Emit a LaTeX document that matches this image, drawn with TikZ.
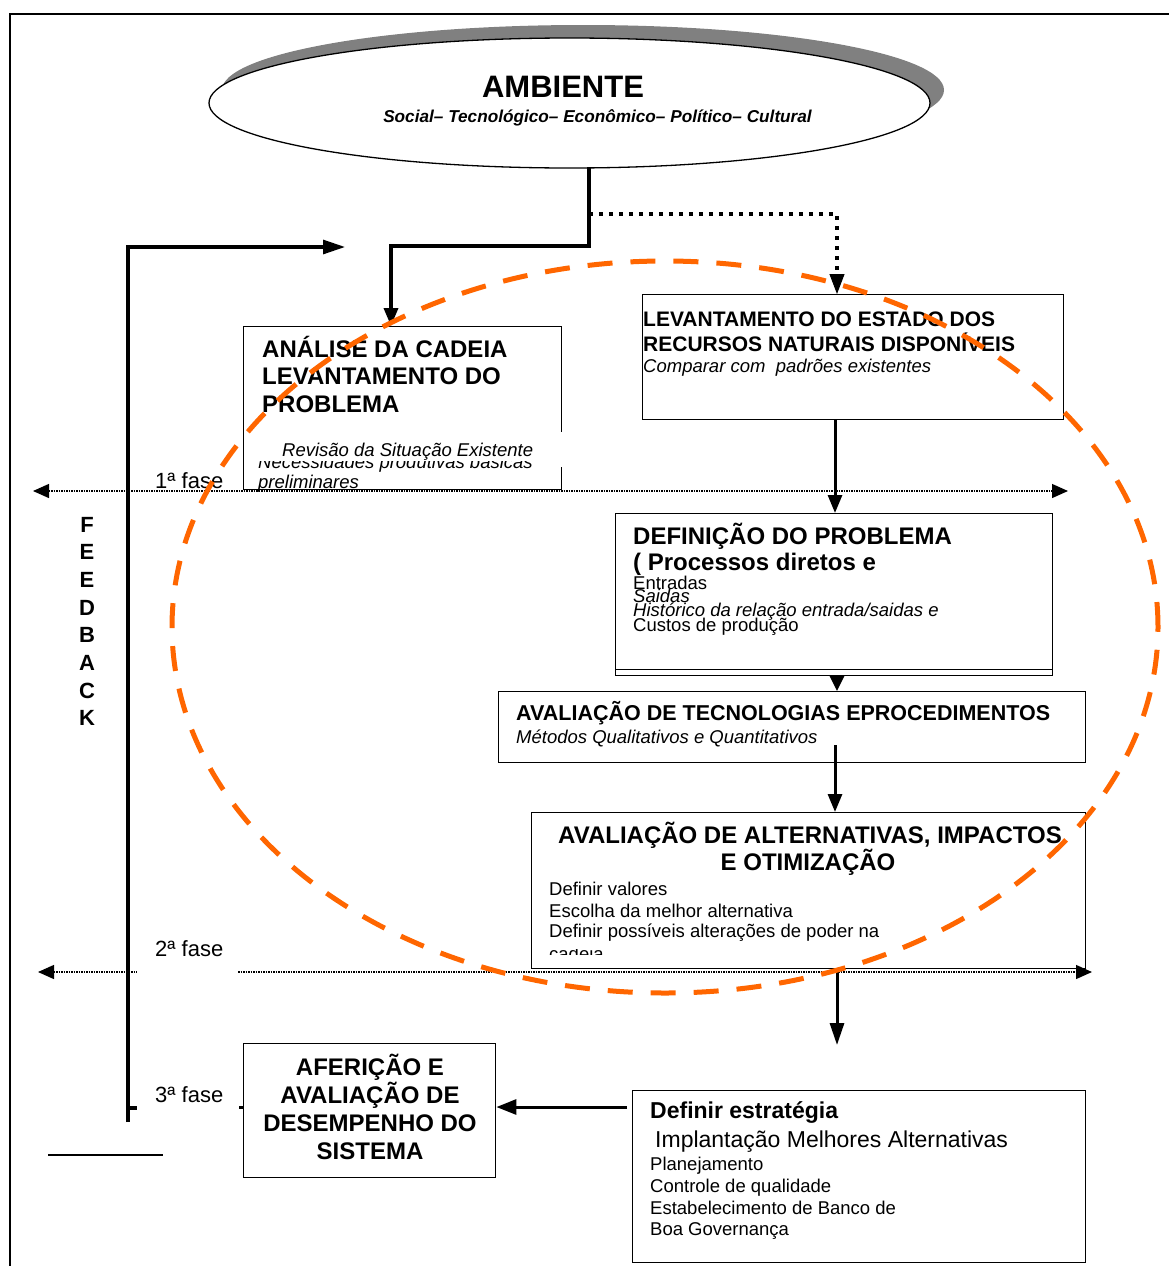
\documentclass[tikz,border=0pt]{standalone}
\usepackage{fontspec}
\setmainfont{Liberation Sans}
\usetikzlibrary{shapes.geometric,arrows.meta,calc}
\newcommand\fsz[2]{\fontsize{#1}{#2}\selectfont}
\definecolor{orng}{RGB}{255,102,0}
\definecolor{shadowgray}{RGB}{128,128,128}
\begin{document}
\begin{tikzpicture}[x=1pt,y=-1pt,
  box/.style={draw, line width=1.4pt, fill=white, inner sep=0, anchor=north west},
  txt/.style={inner sep=0, anchor=base west},
  ctxt/.style={inner sep=0, anchor=base},
  bigb/.style={font=\fsz{24}{28}\bfseries},
  midb/.style={font=\fsz{21}{25}\bfseries},
  smit/.style={font=\fsz{18.5}{22}\itshape},
  smrg/.style={font=\fsz{18.5}{22}},
  phtxt/.style={font=\fsz{22}{26}},
  thk/.style={line width=3.6pt, line cap=rect},
  arr/.style={line width=3pt, -{Triangle[length=18pt,width=14pt]}},
  dotln/.style={line width=4pt, dash pattern=on 4pt off 6pt},
  phase/.style={line width=1.3pt, dash pattern=on 1.5pt off 1pt},
  ptip/.style={{Triangle[length=16pt,width=14pt]}-{Triangle[length=16pt,width=14pt]}},
]
\useasboundingbox (0,0) rectangle (1169,1266);
% frame
\draw[line width=1.2pt] (10,1266) -- (10,14) -- (1169,14);

% AMBIENTE ellipse with shadow
\node[ellipse, fill=shadowgray, minimum width=722pt, minimum height=130pt, inner sep=0] (ambsh) at (583,90) {};
\node[ellipse, draw, line width=1.3pt, fill=white, minimum width=721pt, minimum height=130pt, inner sep=0] (amb) at (569.5,103) {};
\node[ctxt, font=\fsz{31}{36}\bfseries] (ambt) at (563,97) {AMBIENTE};
\node[ctxt, font=\fsz{17.2}{20}\bfseries\itshape] (ambs) at (597.5,122) {Social– Tecnológico– Econômico– Político– Cultural};

% boxes
\node[box, minimum width=318pt, minimum height=163pt] (anal) at (243,326) {};
\node[box, minimum width=421pt, minimum height=125pt] (lev) at (642,294) {};
\node[box, minimum width=437pt, minimum height=162pt] (def) at (615,513) {};
\draw[line width=1.4pt] ($(def.south west)+(0,-7)$) -- ($(def.south east)+(0,-7)$);
\node[box, minimum width=587pt, minimum height=71pt] (tec) at (498,691) {};
\node[box, minimum width=554pt, minimum height=156pt] (alt) at (531,812) {};
\node[box, minimum width=453pt, minimum height=172pt] (estr) at (632,1090) {};
\node[box, minimum width=252pt, minimum height=134pt] (afer) at (243,1043) {};

% connectors from AMBIENTE
\coordinate (j1) at (589,246);
\coordinate (j2) at (589,214);
\draw[thk] (amb.south -| j1) -- (j1) -| ($(anal.north west)+(148,-12)$);
\draw[arr, line width=3.6pt] ($(anal.north west)+(148,-14)$) -- ($(anal.north west)+(148,0)$);
\draw[dotln] (j2) -| ($(lev.north west)+(195,-16)$);
\draw[-{Triangle[length=20pt,width=15pt]}, line width=1pt] ($(lev.north west)+(195,-20)$) -- ($(lev.north west)+(195,0)$);

% chain arrows
\draw[arr] ($(lev.south west)+(193,0)$) -- ($(def.north west)+(220,0)$);
\draw[arr, -{Triangle[length=15pt,width=14pt]}] ($(def.south west)+(222,0)$) -- ($(tec.north west)+(339,0)$);
\draw[arr] ($(tec.north west)+(337,54)$) -- ($(alt.north west)+(304,0)$);
\coordinate (e1) at (837,1045);
\draw[arr, -{Triangle[length=22pt,width=14pt]}] ($(alt.south west)+(306,0)$) -- (e1);
\draw[arr, -{Triangle[length=20pt,width=15pt]}] ($(estr.north west)+(-5,17)$) -- ($(afer.north east)+(0,64)$);

% ANALISE text
\node[txt, bigb] (an1) at (262,357) {ANÁLISE DA CADEIA};
\node[txt, bigb] (an2) at (262,384.5) {LEVANTAMENTO DO};
\node[txt, bigb] (an3) at (262,412) {PROBLEMA};
\node[txt, smit] (an4) at (258,468) {Necessidades produtivas básicas};
\node[fill=white, inner sep=0, anchor=north west, minimum width=316pt, minimum height=29pt] (cover) at (250,432) {};
\node[fill=white, inner sep=0, anchor=north west, minimum width=12pt, minimum height=7pt] (cover2) at (555,460) {};
\node[txt, smit] (an5) at (282,456) {Revisão da Situação Existente};
\node[txt, smit] (an6) at (258,488) {preliminares};

% LEVANTAMENTO text
\node[txt, midb] (lv1) at (643,326) {LEVANTAMENTO DO ESTADO DOS};
\node[txt, midb] (lv2) at (643,351) {RECURSOS NATURAIS DISPONÍVEIS};
\node[txt, smit] (lv3) at (643,372) {Comparar com\ \ padrões existentes};

% DEFINICAO text
\node[txt, bigb] (df1) at (633,544) {DEFINIÇÃO DO PROBLEMA};
\node[txt, bigb] (df2) at (633,570) {( Processos diretos e};
\node[txt, smrg] (df3) at (633,589) {Entradas};
\node[txt, smit] (df4) at (633,602) {Saidas};
\node[txt, smit] (df5) at (633,616) {Histórico da relação entrada/saidas e};
\node[txt, smrg] (df6) at (633,631) {Custos de produção};

% TECNOLOGIAS text
\node[txt, font=\fsz{21.5}{25}\bfseries] (tc1) at (516,720) {AVALIAÇÃO DE TECNOLOGIAS EPROCEDIMENTOS};
\node[txt, smit] (tc2) at (516,743) {Métodos Qualitativos e Quantitativos};

% ALTERNATIVAS text
\node[ctxt, bigb] (al1) at (810,843) {AVALIAÇÃO DE ALTERNATIVAS, IMPACTOS};
\node[ctxt, bigb] (al2) at (808,870) {E OTIMIZAÇÃO};
\node[txt, smrg] (al3) at (549,895) {Definir valores};
\node[txt, smrg] (al4) at (549,917) {Escolha da melhor alternativa};
\node[txt, smrg] (al5) at (549,937) {Definir possíveis alterações de poder na};
\begin{scope}
\clip (540,949) rectangle (700,954);
\node[txt, smrg] (al6) at (549,960) {cadeia};
\end{scope}

% ESTRATEGIA text
\node[txt, font=\fsz{23}{27}\bfseries] (es1) at (650,1118) {Definir estratégia};
\node[txt, font=\fsz{23}{27}] (es2) at (655,1147) {Implantação Melhores Alternativas};
\node[txt, smrg] (es3) at (650,1170) {Planejamento};
\node[txt, smrg] (es4) at (650,1192) {Controle de qualidade};
\node[txt, smrg] (es5) at (650,1214) {Estabelecimento de Banco de};
\node[txt, smrg] (es6) at (650,1235) {Boa Governança};

% AFERICAO text
\node[ctxt, bigb] (af1) at (370,1075) {AFERIÇÃO E};
\node[ctxt, bigb] (af2) at (370,1103) {AVALIAÇÃO DE};
\node[ctxt, bigb] (af3) at (370,1131) {DESEMPENHO DO};
\node[ctxt, bigb] (af4) at (370,1159) {SISTEMA};

% phase lines
\coordinate (p1l) at (33,491);
\coordinate (p1r) at (1068,491);
\draw[phase, ptip] (p1l) -- (p1r);
\coordinate (p2l) at (38,972);
\coordinate (p2a) at (137,972);
\coordinate (p2b) at (238,972);
\coordinate (p2r) at (1092,972);
\draw[phase, {Triangle[length=16pt,width=14pt]}-] (p2l) -- (p2a);
\draw[phase, -{Triangle[length=16pt,width=14pt]}] (p2b) -- (p2r);
\node[txt, phtxt] (ph1) at (155,488) {1ª fase};
\node[txt, phtxt] (ph2) at (155,956) {2ª fase};
\node[txt, phtxt] (ph3) at (155,1102) {3ª fase};

% feedback
\coordinate (fb0) at (128,1122);
\coordinate (fb1) at (128,247);
\coordinate (fb2) at (345,247);
\draw[line width=3.6pt] (fb0) -- (fb1) -- ($(fb2)+(-10,0)$);
\draw[-{Triangle[length=22pt,width=14pt]}, line width=3pt] ($(fb2)+(-24,0)$) -- (fb2);
\coordinate (fs1) at (126,1108);
\coordinate (fs2) at (137,1108);
\draw[line width=3.6pt] (fs1) -- (fs2);
\coordinate (fd1) at (239,1107);
\draw[line width=3pt] (fd1) -- (afer.west |- fd1);
\coordinate (bl1) at (48,1155);
\coordinate (bl2) at (163,1155);
\draw[line width=1.3pt] (bl1) -- (bl2);
\foreach \l [count=\i from 0] in {F,E,E,D,B,A,C,K}
  \node[ctxt, font=\fsz{22}{26}\bfseries] (fb\i l) at (87,532+27.7*\i) {\l};

% orange dashed ellipse
\draw[orng, line width=5pt, dash pattern=on 25pt off 18pt] (665,627) ellipse [x radius=493pt, y radius=366pt];
\end{tikzpicture}
\end{document}
